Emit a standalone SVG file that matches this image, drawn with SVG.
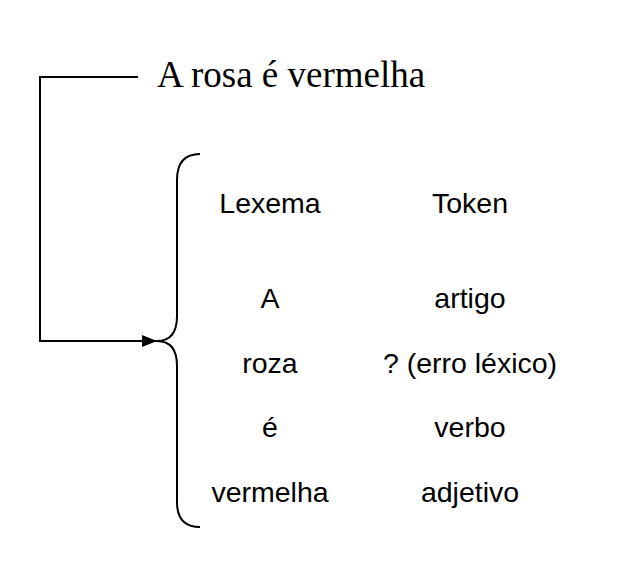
<svg xmlns="http://www.w3.org/2000/svg" width="630" height="569" viewBox="0 0 630 569">
<style>
.t{font-family:"Liberation Sans",Arial,sans-serif;font-size:28.5px;fill:#000;text-anchor:middle}
.ln{fill:none;stroke:#000;stroke-width:2}
</style>
<defs>
<marker id="ah" markerWidth="16" markerHeight="12" refX="15" refY="6" orient="auto" markerUnits="userSpaceOnUse">
<path d="M0,0 L15,6 L0,12 Z" fill="#000"/>
</marker>
</defs>
<rect width="630" height="569" fill="#fff"/>
<g id="title">
<text x="157" y="87" style="font-family:'Liberation Serif','Times New Roman',serif;font-size:37px;fill:#000">A rosa é vermelha</text>
</g>
<g id="connectors">
<path class="ln" d="M138,77 H40 V341 H157" marker-end="url(#ah)"/>
</g>
<g id="brace">
<path class="ln" d="M200,154 Q177,154 177,180 V316 Q177,341 157,341 Q177,341 177,366 V502 Q177,527 200,527"/>
</g>
<g id="table">
<text class="t" x="270" y="213">Lexema</text>
<text class="t" x="470" y="213">Token</text>
<text class="t" x="270" y="308">A</text>
<text class="t" x="470" y="308">artigo</text>
<text class="t" x="270" y="373">roza</text>
<text class="t" x="470" y="373">? (erro léxico)</text>
<text class="t" x="270" y="437">é</text>
<text class="t" x="470" y="437">verbo</text>
<text class="t" x="270" y="502">vermelha</text>
<text class="t" x="470" y="502">adjetivo</text>
</g>
</svg>
